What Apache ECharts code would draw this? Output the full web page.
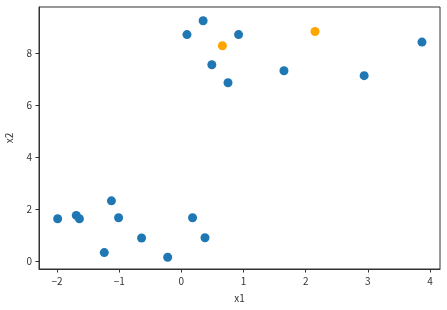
<!DOCTYPE html>
<html><head><meta charset="utf-8">
<script src="https://cdn.jsdelivr.net/npm/echarts@6/dist/echarts.min.js"></script>
<style>html,body{margin:0;padding:0;background:#fff}#c{width:447px;height:310px}</style>
</head><body><div id="c"></div>
<script>
const blueX = [-1.99, -1.69, -1.64, -1.125, -1.01, -1.24, -0.64, -0.22, 0.18, 0.38, 0.09, 0.35, 0.49, 0.75, 0.92, 1.65, 2.94, 3.87];
const blueY = [1.63, 1.76, 1.63, 2.32, 1.67, 0.33, 0.89, 0.15, 1.67, 0.90, 8.71, 9.24, 7.55, 6.86, 8.71, 7.32, 7.13, 8.42];
const orangeX = [0.66, 2.15];
const orangeY = [8.28, 8.83];
const xTicks = [-2, -1, 0, 1, 2, 3, 4];
const yTicks = [0, 2, 4, 6, 8];
const xName = 'x1';
const yName = 'x2';

const pairs = (xs, ys) => xs.map((x, i) => [x, ys[i]]);
const font = 'Noto Sans CJK JP';
const fmt = v => String(v).replace('-', '\u2212');
const chart = echarts.init(document.getElementById('c'));
const axisCommon = {
  type: 'value',
  nameLocation: 'middle',
  nameTextStyle: { color: '#333', fontSize: 10, fontFamily: font },
  splitLine: { show: false },
  axisLine: { show: true, onZero: false, lineStyle: { color: '#333', width: 1 } },
  axisTick: { show: true, length: 3.5, lineStyle: { color: '#333', width: 1 } },
  axisLabel: { color: '#333', fontSize: 10, fontFamily: font, formatter: fmt }
};
chart.setOption({
  animation: false,
  grid: { left: 39, top: 7, right: 7, bottom: 41, show: true, borderColor: '#333', borderWidth: 1, containLabel: false, outerBoundsMode: 'none' },
  xAxis: Object.assign({}, axisCommon, {
    min: -2.29, max: 4.16, name: xName, nameGap: 24,
    axisTick: Object.assign({}, axisCommon.axisTick, { customValues: xTicks }),
    axisLabel: Object.assign({}, axisCommon.axisLabel, { customValues: xTicks, margin: 7 })
  }),
  yAxis: Object.assign({}, axisCommon, {
    min: -0.30, max: 9.77, name: yName, nameGap: 25,
    axisTick: Object.assign({}, axisCommon.axisTick, { customValues: yTicks }),
    axisLabel: Object.assign({}, axisCommon.axisLabel, { customValues: yTicks, margin: 7 })
  }),
  series: [
    { type: 'scatter', data: pairs(blueX, blueY), symbolSize: 9, itemStyle: { color: '#1f77b4', opacity: 1 } },
    { type: 'scatter', data: pairs(orangeX, orangeY), symbolSize: 9, itemStyle: { color: '#ffa500', opacity: 1 } }
  ]
});
</script></body></html>
